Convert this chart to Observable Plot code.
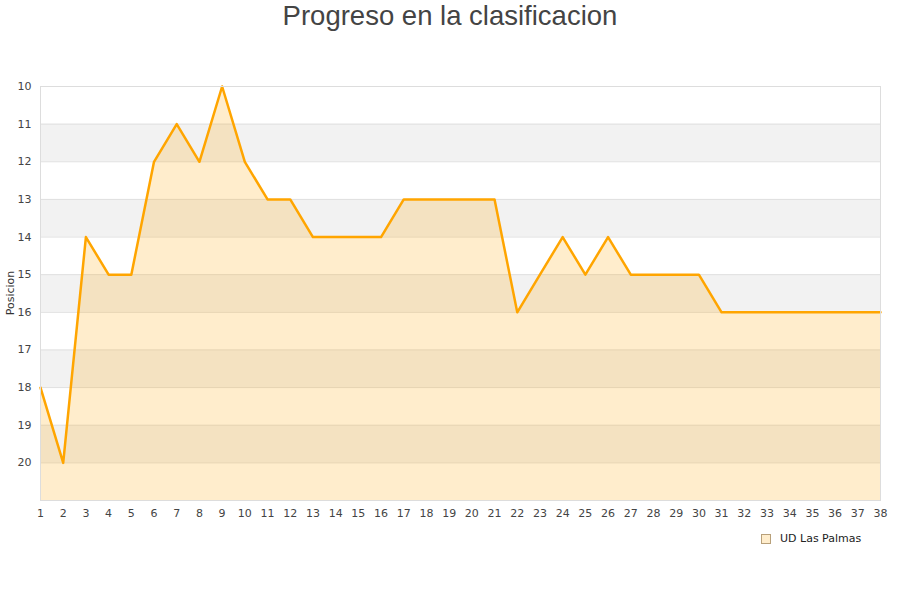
<!DOCTYPE html>
<html>
<head>
<meta charset="utf-8">
<script src="https://cdn.jsdelivr.net/npm/d3@7"></script>
<script src="https://cdn.jsdelivr.net/npm/@observablehq/plot@0.6"></script>
<style>
  html, body { margin: 0; padding: 0; background: #fff; }
  #wrap { position: relative; width: 900px; height: 600px; font-family: "DejaVu Sans", sans-serif; }
  #title { position: absolute; left: 0; top: 0; width: 900px; text-align: center; font-family: "Liberation Sans", Arial, sans-serif; font-size: 27.5px; color: #444; line-height: 32px; }
  #ylabel { position: absolute; left: 10px; top: 293px; transform: translate(-50%, -50%) rotate(-90deg); font-size: 11px; color: #333; white-space: nowrap; }
  #legend { position: absolute; left: 761px; top: 532px; font-size: 11px; color: #222; display: flex; align-items: center; }
  #legend .sw { width: 8px; height: 8px; border: 1px solid #b8a07a; background: #ffedcc; margin-right: 9px; }
  #chart { position: absolute; left: 0; top: 0; }
</style>
</head>
<body>
<div id="wrap">
  <div id="chart"></div>
  <div id="title">Progreso en la clasificacion</div>
  <div id="ylabel">Posicion</div>
  <div id="legend"><div class="sw"></div><span>UD Las Palmas</span></div>
</div>
<script>
const jornadas = d3.range(1, 39);
const posiciones = [18, 20, 14, 15, 15, 12, 11, 12, 10, 12, 13, 13, 14, 14, 14, 14, 13, 13, 13, 13, 13, 16, 15, 14, 15, 14, 15, 15, 15, 15, 16, 16, 16, 16, 16, 16, 16, 16];
const yTicks = [10, 11, 12, 13, 14, 15, 16, 17, 18, 19, 20];
const yDomain = [10, 21];
const bandStarts = [11, 13, 15, 17, 19];
const teamName = "UD Las Palmas";

const data = jornadas.map((j, i) => ({ jornada: j, pos: posiciones[i] }));
const bands = bandStarts.map(b => ({ y1: b, y2: b + 1 }));

const chart = Plot.plot({
  width: 900,
  height: 600,
  marginLeft: 40,
  marginRight: 20,
  marginTop: 86,
  marginBottom: 100,
  style: { fontFamily: "DejaVu Sans, sans-serif", fontSize: "11px", color: "#444", background: "transparent" },
  x: { type: "linear", domain: [1, 38], ticks: jornadas, tickFormat: d => String(d), label: null, tickSize: 0, tickPadding: 9 },
  y: { type: "linear", domain: yDomain, reverse: true, ticks: yTicks, tickFormat: d => String(d), label: null, tickSize: 0, tickPadding: 9 },
  marks: [
    Plot.rect(bands, { x1: 1, x2: 38, y1: "y1", y2: "y2", fill: "#f2f2f2" }),
    Plot.ruleY(yTicks, { stroke: "#e0e0e0", strokeWidth: 1 }),
    Plot.areaY(data, { x: "jornada", y1: () => yDomain[1], y2: "pos", fill: "#ffa500", fillOpacity: 0.2 }),
    Plot.line(data, { x: "jornada", y: "pos", stroke: "#ffa500", strokeWidth: 2.5 }),
    Plot.frame({ stroke: "#dddddd", strokeWidth: 1 })
  ]
});
document.getElementById("chart").appendChild(chart);
</script>
</body>
</html>
